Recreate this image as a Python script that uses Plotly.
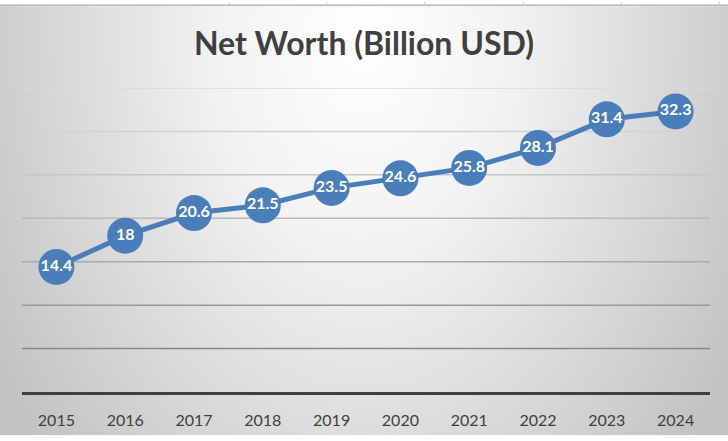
import plotly.graph_objects as go
import urllib.parse

# ---- data ----
years = ["2015", "2016", "2017", "2018", "2019", "2020", "2021", "2022", "2023", "2024"]
net_worth = [14.4, 18, 20.6, 21.5, 23.5, 24.6, 25.8, 28.1, 31.4, 32.3]
grid_values = [5, 10, 15, 20, 25, 30, 35]
grid_colors = ["#888888", "#999999", "#aaaaaa", "#b9b9b9", "#c6c6c6", "#d2d2d2", "#dadada"]

W, H = 728, 441
L, R, T, B = 22, 18, 88, 44
pw, ph = W - L - R, H - T - B

# background (Excel-like radial gradient + sheet strip at the top)
vlines = "".join(
    f'<line x1="{x}.5" y1="0" x2="{x}.5" y2="3" stroke="#d0d0d0" stroke-width="1"/>'
    for x in [229, 326, 424, 523, 621, 719]
)
svg = f'''<svg xmlns="http://www.w3.org/2000/svg" width="{W}" height="{H}" viewBox="0 0 {W} {H}" preserveAspectRatio="none">
<defs><radialGradient id="g" gradientUnits="userSpaceOnUse" cx="364" cy="30" r="433"
 gradientTransform="translate(364 30) scale(1 1.49) translate(-364 -30)">
<stop offset="0" stop-color="#ffffff"/><stop offset="0.35" stop-color="#f2f2f2"/><stop offset="1" stop-color="#c2c2c2"/></radialGradient></defs>
<rect x="0" y="0" width="{W}" height="4" fill="#ffffff"/>
{vlines}
<rect x="0" y="3" width="{W}" height="2" fill="#bdbdbd"/>
<rect x="0" y="5" width="{W}" height="{H-5}" fill="url(#g)"/>
</svg>'''
src = "data:image/svg+xml;charset=utf-8," + urllib.parse.quote(svg)

fig = go.Figure()
fig.add_trace(go.Scatter(
    x=years, y=net_worth,
    mode="lines+markers+text",
    line=dict(color="#4a7ebb", width=5),
    marker=dict(size=36, color="#4a7ebb", line=dict(width=0)),
    text=[f"{v:g}" for v in net_worth],
    textposition="middle center",
    textfont=dict(family="Lato", size=16, color="white", weight="bold"),
    hoverinfo="skip",
    cliponaxis=False,
))

shapes = [
    dict(type="line", xref="paper", yref="y", x0=0, x1=1, y0=v, y1=v,
         line=dict(color=c, width=1.5), layer="below")
    for v, c in zip(grid_values, grid_colors)
]

fig.update_layout(
    width=W, height=H,
    margin=dict(l=L, r=R, t=T, b=B, pad=0),
    paper_bgcolor="rgba(0,0,0,0)",
    plot_bgcolor="rgba(0,0,0,0)",
    showlegend=False,
    title=dict(
        text="Net Worth (Billion USD)",
        x=0.5, xanchor="center", xref="container",
        y=1 - 44 / H, yanchor="middle", yref="container",
        font=dict(family="Lato", size=32, color="#404040", weight="bold"),
    ),
    xaxis=dict(
        type="category", range=[-0.5, 9.5],
        showgrid=False, zeroline=False,
        showline=True, linecolor="#404040", linewidth=3,
        ticks="", ticklabelstandoff=12,
        tickfont=dict(family="Lato", size=16, color="#404040"),
        fixedrange=True,
    ),
    yaxis=dict(
        range=[0, 35], showgrid=False, zeroline=False, showline=False,
        showticklabels=False, ticks="", fixedrange=True,
    ),
    shapes=shapes,
    images=[dict(
        source=src, xref="paper", yref="paper",
        x=-L / pw, y=1 + T / ph, sizex=W / pw, sizey=H / ph,
        xanchor="left", yanchor="top", sizing="stretch", layer="below",
    )],
)

fig.write_html("out.html")
